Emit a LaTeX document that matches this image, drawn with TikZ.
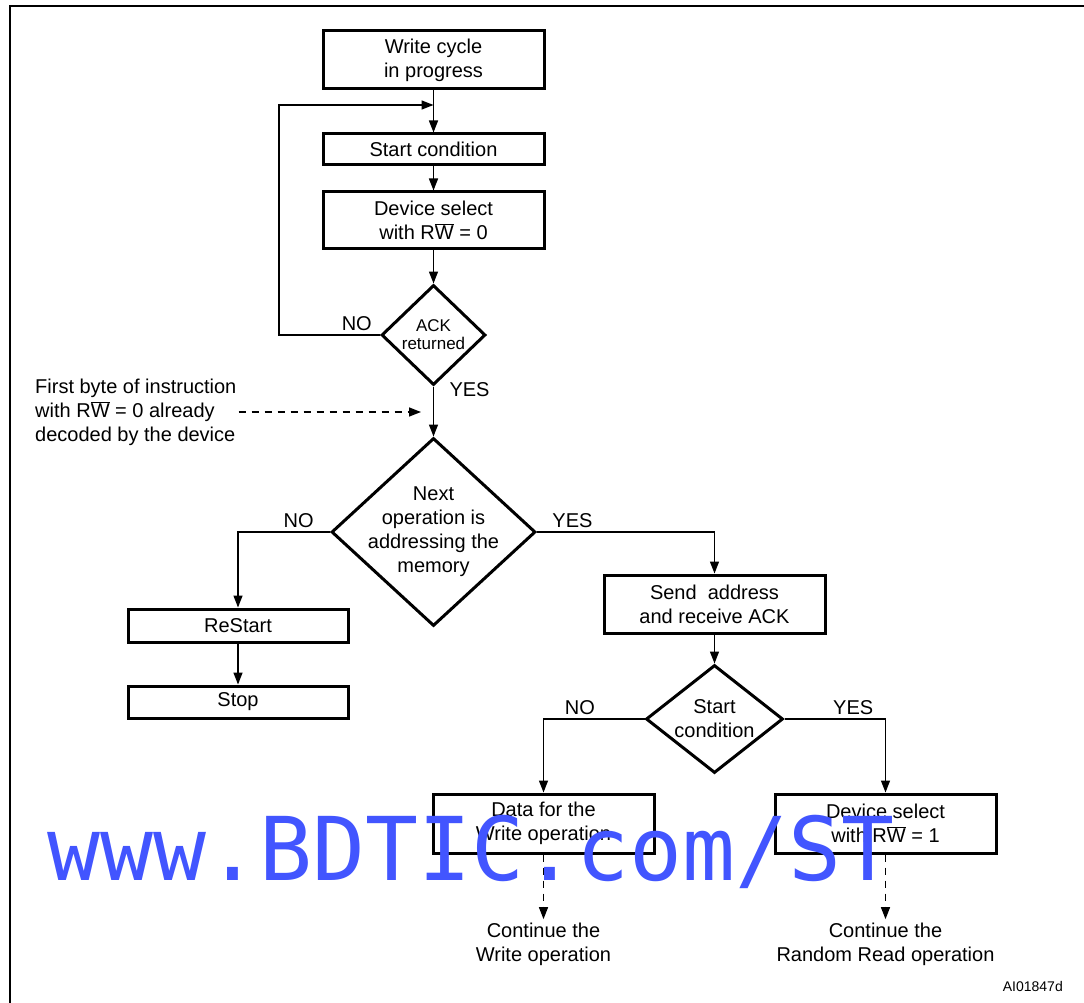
\documentclass[tikz,border=0pt]{standalone}
\usepackage{fontspec}
\setmainfont{Liberation Sans}
\newfontfamily\markfont{DejaVu Sans Mono}
\usetikzlibrary{shapes.geometric,arrows.meta}
\definecolor{watermark}{RGB}{66,85,255}
\tikzstyle{block}=[draw, rectangle, line width=3pt, minimum width=221, inner sep=0pt, align=center]
\tikzset{decision/.style={draw, diamond, line width=3pt, inner sep=0pt}}
\tikzset{flow/.style={line width=1.4pt, -{Triangle[length=12pt,width=9pt]}}}
\tikzset{hint/.style={flow, dash pattern=on 7pt off 6pt}}
\newcommand{\rwbar}{R\ensuremath{\overline{\mbox{W}}}}

\begin{document}
\begin{tikzpicture}[x=1pt, y=-1pt, font=\fontsize{20}{24}\selectfont]
  \useasboundingbox (0,0) rectangle (1084,1003);
  \draw[line width=2.4pt] (10,1003) |- (1084,6);

  %% Polling loop
  \draw (433.5,60) node[block, minimum height=58] (wcycle) {Write cycle\\in progress};
  \draw (433.5,149.5) node[block, minimum height=31] (startc) {Start condition};
  \draw (433.5,220) node[block, minimum height=56] (devsel) {Device select\\with \rwbar{} = 0};
  \draw (433.5,335) node[decision, minimum width=104, minimum height=100, label={[align=center, font=\fontsize{17}{18}\selectfont]center:ACK\\returned}] (ack) {};
  \draw (433.5,532) node[decision, minimum width=204, minimum height=188, label={[align=center]center:Next\\operation is\\addressing the\\memory}] (nextop) {};
  \coordinate (join) at (433.5,105);

  \draw (35,412) node[anchor=west, inner sep=0pt, align=left] (note) {First byte of instruction\\with \rwbar{} = 0 already\\decoded by the device};
  \coordinate (noteend) at (421,412);

  %% Branches
  \draw (238,625.5) node[block, minimum width=220, minimum height=33] (restart) {ReStart};
  \draw (238,702) node[block, minimum width=220, minimum height=32] (stop) {Stop};
  \draw (714.5,604) node[block, minimum height=58] (sendaddr) {Send~ address\\and receive ACK};
  \draw (714.5,719) node[decision, minimum width=137, minimum height=108, label={[align=center]center:Start\\condition}] (startq) {};
  \draw (543.5,823.5) node[block, minimum height=59] (wdata) {Data for the\\Write operation};
  \draw (885.5,823.5) node[block, minimum height=59] (devselr) {Device select\\with \rwbar{} = 1};
  \draw (543.5,944) node[align=center] (contw) {Continue the\\Write operation};
  \draw (885.5,944) node[align=center] (contr) {Continue the\\Random Read operation};
  \draw (1063,986) node[anchor=east, inner sep=0pt, font=\fontsize{14}{16}\selectfont] (figref) {AI01847d};

  \draw[flow] (wcycle.south) -- (startc.north);
  \draw[flow] (startc.south) -- (devsel.north);
  \draw[flow] (devsel.south) -- (ack.north);
  \draw[flow] (ack.west) -- node[pos=0.23, above] {NO} ++(-101,0) |- (join);
  \draw[flow] (ack.south) -- node[pos=0.07, right=12pt] {YES} (nextop.north);
  \draw[hint] ([xshift=2pt]note.east) -- (noteend);

  \draw[flow] (nextop.west) -| node[pos=0.17, above] {NO} (restart.north);
  \draw[flow] (restart.south) -- (stop.north);
  \draw[flow] (nextop.east) -| node[pos=0.1, above] {YES} (sendaddr.north);
  \draw[flow] (sendaddr.south) -- (startq.north);
  \draw[flow] (startq.west) -| node[pos=0.32, above] {NO} (wdata.north);
  \draw[flow] (startq.east) -| node[pos=0.34, above] {YES} (devselr.north);
  \draw[hint] (wdata.south) -- (contw.north);
  \draw[hint] (devselr.south) -- (contr.north);

  %% Overprint
  \draw (47,880) node[anchor=base west, inner sep=0pt, text=watermark, font=\markfont\fontsize{88}{88}\selectfont] (bdtic) {www.BDTIC.com/ST};
\end{tikzpicture}
\end{document}
